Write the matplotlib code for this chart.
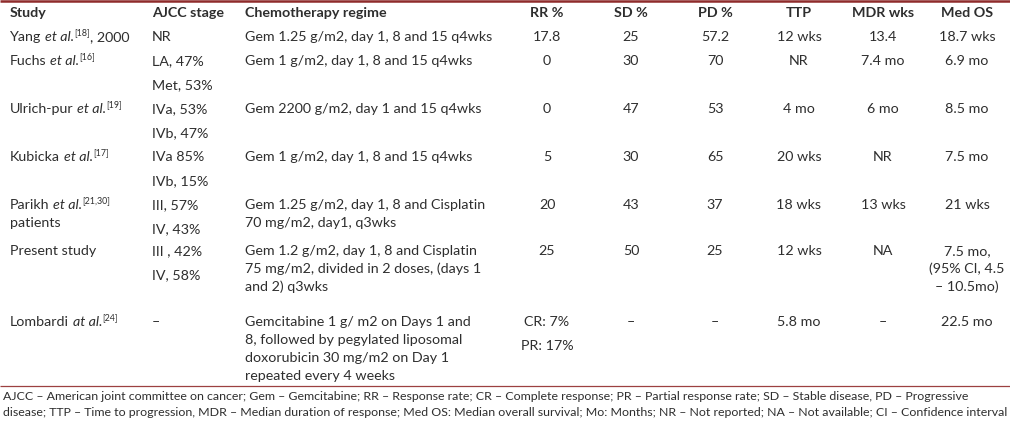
import matplotlib
matplotlib.use("Agg")
import matplotlib.pyplot as plt

# ---------------- data ----------------
headers = ["Study", "AJCC stage", "Chemotherapy regime", "RR %", "SD %", "PD %", "TTP", "MDR wks", "Med OS"]

# study names as (text, style) segments: n = normal, i = italic, s = superscript
studies = [
    [[("Yang", "n"), (" ", "sp"), ("et al.", "i"), ("[18]", "s"), (", 2000", "n")]],
    [[("Fuchs", "n"), (" ", "sp"), ("et al.", "i"), ("[16]", "s")]],
    [[("Ulrich-pur", "n"), (" ", "sp"), ("et al.", "i"), ("[19]", "s")]],
    [[("Kubicka", "n"), (" ", "sp"), ("et al.", "i"), ("[17]", "s")]],
    [[("Parikh", "n"), (" ", "sp"), ("et al.", "i"), ("[21,30]", "s")], [("patients", "n")]],
    [[("Present study", "n")]],
    [[("Lombardi", "n"), (" ", "sp"), ("at al.", "i"), ("[24]", "s")]],
]
ajcc = [["NR"], ["LA, 47%", "Met, 53%"], ["IVa, 53%", "IVb, 47%"], ["IVa 85%", "IVb, 15%"],
        ["III, 57%", "IV, 43%"], ["III , 42%", "IV, 58%"], ["\u2013"]]
chemo = [
    ["Gem 1.25 g/m2, day 1, 8 and 15 q4wks"],
    ["Gem 1 g/m2, day 1, 8 and 15 q4wks"],
    ["Gem 2200 g/m2, day 1 and 15 q4wks"],
    ["Gem 1 g/m2, day 1, 8 and 15 q4wks"],
    ["Gem 1.25 g/m2, day 1, 8 and Cisplatin", "70 mg/m2, day1, q3wks"],
    ["Gem 1.2 g/m2, day 1, 8 and Cisplatin", "75 mg/m2, divided in 2 doses, (days 1", "and 2) q3wks"],
    ["Gemcitabine 1 g/ m2 on Days 1 and", "8, followed by pegylated liposomal",
     "doxorubicin 30 mg/m2 on Day 1", "repeated every 4 weeks"],
]
rr = [["17.8"], ["0"], ["0"], ["5"], ["20"], ["25"], ["CR: 7%", "PR: 17%"]]
sd = [["25"], ["30"], ["47"], ["30"], ["43"], ["50"], ["\u2013"]]
pd_ = [["57.2"], ["70"], ["53"], ["65"], ["37"], ["25"], ["\u2013"]]
ttp = [["12 wks"], ["NR"], ["4 mo"], ["20 wks"], ["18 wks"], ["12 wks"], ["5.8 mo"]]
mdr = [["13.4"], ["7.4 mo"], ["6 mo"], ["NR"], ["13 wks"], ["NA"], ["\u2013"]]
medos = [["18.7 wks"], ["6.9 mo"], ["8.5 mo"], ["7.5 mo"], ["21 wks"],
         ["7.5 mo,", "(95% CI, 4.5", "\u2013 10.5mo)"], ["22.5 mo"]]
footnotes = [
    "AJCC \u2013 American joint committee on cancer; Gem \u2013 Gemcitabine; RR \u2013 Response rate; "
    "CR \u2013 Complete response; PR \u2013 Partial response rate; SD \u2013 Stable disease, PD \u2013 Progressive",
    "disease; TTP \u2013 Time to progression, MDR \u2013 Median duration of response; Med OS: Median overall "
    "survival; Mo: Months; NR \u2013 Not reported; NA \u2013 Not available; CI \u2013 Confidence interval",
]

# ---------------- layout ----------------
W, H = 1010, 422
FONT = "Lato"
TXT = "#2e2e2e"
row_y = [37, 61, 109, 157, 205, 251, 322]
header_y = 13
wrap_dy = 18     # wrapped line spacing
sub_dy = 24      # stacked item spacing (AJCC / RR)
x_study, x_ajcc, x_chemo = 10, 152, 245
centers = [547, 631, 715, 799, 883, 967]

fig = plt.figure(figsize=(W / 100, H / 100), dpi=100)
ax = fig.add_axes([0, 0, 1, 1])
ax.set_xlim(0, W)
ax.set_ylim(H, 0)
ax.axis("off")
renderer = fig.canvas.get_renderer()


def width_of(s, size, **kw):
    t = ax.text(0, 0, s, fontsize=size, family=FONT, **kw)
    w = t.get_window_extent(renderer).width
    t.remove()
    return w


# fit main font size so the reference line spans ~248 px
size = 10.0
for _ in range(4):
    w = width_of(chemo[0][0], size)
    size *= 248.0 / w
space_w = width_of("x x", size) - width_of("xx", size)


def rich(x, y, segs):
    cur = x
    for txt, st in segs:
        if st == "sp":
            cur += space_w
            continue
        kw = dict(fontsize=size, family=FONT, color=TXT, va="center", ha="left")
        yy = y
        if st == "i":
            kw["style"] = "italic"
        if st == "s":
            kw["fontsize"] = size * 0.62
            yy = y - 4.5
        t = ax.text(cur, yy, txt, **kw)
        cur += t.get_window_extent(renderer).width


# top rule and separator
ax.plot([0, W], [0.8, 0.8], color="#8e2b2b", lw=1.8, solid_capstyle="butt")
ax.plot([0, W], [385.5, 385.5], color="#9c4040", lw=0.9, solid_capstyle="butt")

# headers
hx = [x_study, x_ajcc, x_chemo] + centers
for i, h in enumerate(headers):
    ax.text(hx[i], header_y, h, fontsize=size, family=FONT, weight="bold", color=TXT,
            va="center", ha="left" if i < 3 else "center")

# body
for r, y in enumerate(row_y):
    for k, segs in enumerate(studies[r]):
        rich(x_study, y + k * wrap_dy, segs)
    for k, s in enumerate(ajcc[r]):
        ax.text(x_ajcc, y + k * sub_dy, s, fontsize=size, family=FONT, color=TXT, va="center")
    for k, s in enumerate(chemo[r]):
        ax.text(x_chemo, y + k * wrap_dy, s, fontsize=size, family=FONT, color=TXT, va="center")
    for c, col in enumerate([rr, sd, pd_, ttp, mdr, medos]):
        dy = sub_dy if col is rr else wrap_dy
        for k, s in enumerate(col[r]):
            ax.text(centers[c], y + k * dy, s, fontsize=size, family=FONT, color=TXT,
                    va="center", ha="center")

# footnotes, fitted to width
fsize = size * 0.8
for _ in range(4):
    w = width_of(footnotes[1], fsize)
    fsize *= 1001.0 / w
for k, s in enumerate(footnotes):
    ax.text(3, 396 + k * 17, s, fontsize=fsize, family=FONT, color=TXT, va="center")

fig.savefig("out.png", dpi=100)
